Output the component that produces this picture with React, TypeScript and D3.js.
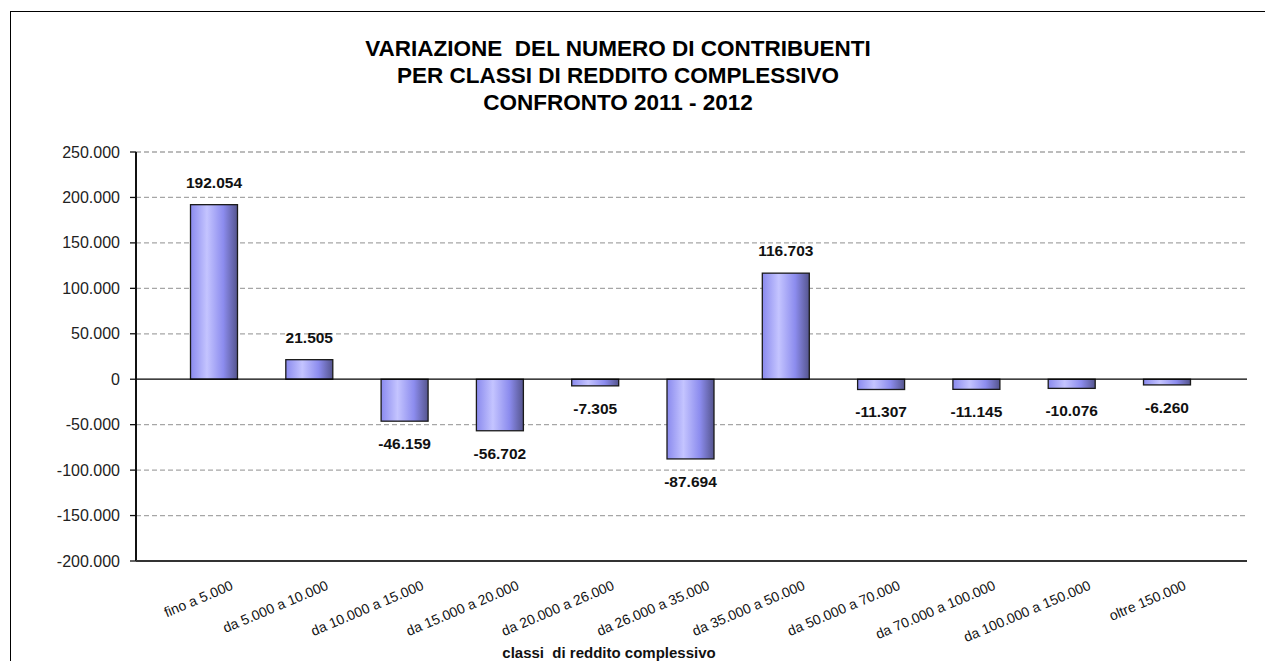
import React from "react";
import { scaleLinear, scaleBand, formatLocale } from "d3";

const categories = [
  "fino a 5.000",
  "da 5.000 a 10.000",
  "da 10.000 a 15.000",
  "da 15.000 a 20.000",
  "da 20.000 a 26.000",
  "da 26.000 a 35.000",
  "da 35.000 a 50.000",
  "da 50.000 a 70.000",
  "da 70.000 a 100.000",
  "da 100.000 a 150.000",
  "oltre 150.000",
];
const variazione = [192054, 21505, -46159, -56702, -7305, -87694, 116703, -11307, -11145, -10076, -6260];
const yTicks = [250000, 200000, 150000, 100000, 50000, 0, -50000, -100000, -150000, -200000];
const titleLines = [
  "VARIAZIONE  DEL NUMERO DI CONTRIBUENTI",
  "PER CLASSI DI REDDITO COMPLESSIVO",
  "CONFRONTO 2011 - 2012",
];
const xTitle = "classi  di reddito complessivo";

const it = formatLocale({ decimal: ",", thousands: ".", grouping: [3], currency: ["", "€"], minus: "-" });
const fmt = it.format(",.0f");

const FONT = "Arial, 'Liberation Sans', sans-serif";

const App = () => {
  const left = 136;
  const right = 1247;
  const top = 152;
  const bottom = 561;

  const y = scaleLinear().domain([-200000, 250000]).range([bottom, top]);
  const x = scaleBand()
    .domain(categories)
    .range([166.35, 1214.65])
    .paddingInner(0.507)
    .paddingOuter(0.2535);
  const bw = x.bandwidth();

  return (
    <svg width={1265} height={661} style={{ position: "absolute", left: 0, top: 0 }} fontFamily={FONT}>
      <defs>
        <linearGradient id="barGrad" x1="0" x2="1" y1="0" y2="0">
          <stop offset="0%" stopColor="#8a8aee" />
          <stop offset="35%" stopColor="#c4c4ff" />
          <stop offset="70%" stopColor="#8c8cee" />
          <stop offset="100%" stopColor="#55558e" />
        </linearGradient>
      </defs>
      <rect x={10.5} y={11.5} width={1300} height={700} fill="white" stroke="#000" strokeWidth={1} />

      {titleLines.map((t, i) => (
        <text key={t} x={618} y={56 + i * 27} textAnchor="middle" fontSize={22.5} fontWeight="bold" style={{ whiteSpace: "pre" }}>
          {t}
        </text>
      ))}

      {/* gridlines */}
      {yTicks
        .filter((v) => v !== 0 && v !== -200000)
        .map((v) => (
          <line key={"g" + v} x1={left} x2={right} y1={y(v)} y2={y(v)} stroke="#a6a6a6" strokeWidth={1.3} strokeDasharray="5,3" />
        ))}

      {/* bars */}
      {variazione.map((v, i) => {
        const c = categories[i];
        const y0 = y(Math.max(0, v));
        const h = Math.abs(y(v) - y(0));
        return <rect key={c} x={x(c)} y={y0} width={bw} height={h} fill="url(#barGrad)" stroke="#1a1a1a" strokeWidth={1.3} />;
      })}

      {/* zero line */}
      <line x1={left} x2={right} y1={y(0)} y2={y(0)} stroke="#000" strokeWidth={1.3} />

      {/* axes */}
      <line x1={left} x2={left} y1={top} y2={bottom} stroke="#111" strokeWidth={2} />
      <line x1={left} x2={right} y1={bottom} y2={bottom} stroke="#333" strokeWidth={2} />
      {yTicks.map((v) => (
        <g key={"t" + v}>
          <line x1={left - 6} x2={left} y1={y(v)} y2={y(v)} stroke="#111" strokeWidth={1.3} />
          <text x={120} y={y(v)} dy="0.35em" textAnchor="end" fontSize={16} fill="#222">
            {fmt(v)}
          </text>
        </g>
      ))}

      {/* data labels */}
      {variazione.map((v, i) => {
        const c = categories[i];
        const cx = (x(c) as number) + bw / 2;
        const ly = v >= 0 ? y(v) - 17 : y(v) + 28;
        return (
          <text key={"l" + c} x={cx} y={ly} textAnchor="middle" fontSize={15.5} fontWeight="bold" fill="#111">
            {fmt(v)}
          </text>
        );
      })}

      {/* category labels */}
      {categories.map((c) => {
        const cx = (x(c) as number) + bw / 2 + 20;
        return (
          <text key={"c" + c} transform={`translate(${cx},${bottom + 28}) rotate(-23)`} textAnchor="end" fontSize={14} fill="#111">
            {c}
          </text>
        );
      })}

      <text x={609} y={658} textAnchor="middle" fontSize={15} fontWeight="bold" fill="#111" style={{ whiteSpace: "pre" }}>
        {xTitle}
      </text>
    </svg>
  );
};

export default App;
